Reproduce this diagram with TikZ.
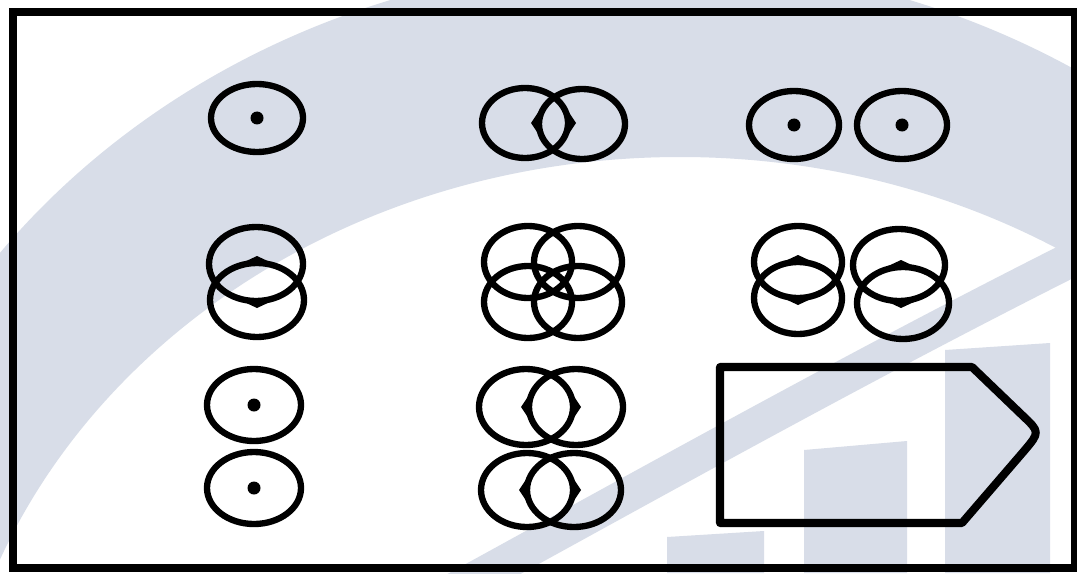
\documentclass[tikz,border=0pt]{standalone}
\usepackage{tikz}
\usetikzlibrary{calc}
\definecolor{wmark}{RGB}{216,221,232}

\begin{document}
\begin{tikzpicture}[
    x=0.01cm, y=-0.01cm,
    ring/.style   = {draw=black, line width=1.8pt},
    pin/.style    = {fill=black},
    plate/.style  = {draw=black, line width=2.3pt, line join=round},
    frame/.style  = {draw=black, line width=2pt},
    wmband/.style = {fill=wmark, even odd rule},
    bumpl/.pic    = {\fill (-8,0) -- (0,-12) -- (3,0) -- (0,12) -- cycle;},
    bumpr/.pic    = {\fill (8,0) -- (0,-12) -- (-3,0) -- (0,12) -- cycle;},
    bumpu/.pic    = {\fill (0,-7) -- (15,0) -- (0,3) -- (-15,0) -- cycle;},
    bumpd/.pic    = {\fill (0,7) -- (15,0) -- (0,-3) -- (-15,0) -- cycle;}
]
\useasboundingbox (0,0) rectangle (1077,573);
\fill[white] (0,0) rectangle (1077,573);

% ========= faint background mark =========
\begin{scope}
  \clip (0,0) rectangle (1077,573);
  \fill[wmband] (650,700) ellipse [x radius=817, y radius=738]
                (680,800) ellipse [x radius=733, y radius=643];
  \draw[wmark, line width=10pt] (400,620) .. controls (620,500) and (850,370) .. (1090,250);
  \fill[wmark] (667,537) -- (764,531) -- (764,573) -- (667,573) -- cycle;
  \fill[wmark] (804,450) -- (907,441) -- (907,573) -- (804,573) -- cycle;
  \fill[wmark] (945,350) -- (1050,343) -- (1050,573) -- (945,573) -- cycle;
\end{scope}

% ========= outer frame =========
\draw[frame] (13,12) rectangle (1074,568);

% ========= row 1 =========
\draw[ring] (257,118) ellipse [x radius=46, y radius=34];
\fill[pin]  (257,118) circle [radius=6.5];

\draw[ring] (525,123) ellipse [x radius=43, y radius=35];
\draw[ring] (582,124) ellipse [x radius=43, y radius=35];
\pic at (539,123) {bumpl};
\pic at (568,123) {bumpr};

\foreach \cx in {794,902} {
  \draw[ring] (\cx,125) ellipse [x radius=45, y radius=34];
  \fill[pin]  (\cx,125) circle [radius=6.5];
}

% ========= row 2 =========
\draw[ring] (256,264) ellipse [x radius=47, y radius=37];
\draw[ring] (257,300) ellipse [x radius=47, y radius=37];
\pic at (257,263) {bumpu};
\pic at (257,301) {bumpd};

\foreach \cx in {528,578}
  \foreach \cy in {262,302}
    \draw[ring] (\cx,\cy) ellipse [x radius=44, y radius=36];

\draw[ring] (798,262) ellipse [x radius=44, y radius=36];
\draw[ring] (798,298) ellipse [x radius=44, y radius=36];
\pic at (798,262) {bumpu};
\pic at (798,298) {bumpd};
\draw[ring] (899,265) ellipse [x radius=46, y radius=36];
\draw[ring] (903,303) ellipse [x radius=46, y radius=36];
\pic at (901,267) {bumpu};
\pic at (901,301) {bumpd};

% ========= row 3 =========
\foreach \cy in {405,488} {
  \draw[ring] (254,\cy) ellipse [x radius=47, y radius=36];
  \fill[pin]  (254,\cy) circle [radius=6.5];
}

\draw[ring] (526,407) ellipse [x radius=47, y radius=38];
\draw[ring] (576,407) ellipse [x radius=47, y radius=38];
\pic at (529,407) {bumpl};
\pic at (573,407) {bumpr};
\draw[ring] (527,490) ellipse [x radius=46, y radius=37];
\draw[ring] (574,490) ellipse [x radius=47, y radius=37];
\pic at (527,490) {bumpl};
\pic at (573,490) {bumpr};

% ========= pointed plate =========
\draw[plate] (720,367) -- (972,367) -- (1022,415)
             .. controls (1040,432) .. (1024,451)
             -- (962,523) -- (720,523) -- cycle;

\end{tikzpicture}
\end{document}
